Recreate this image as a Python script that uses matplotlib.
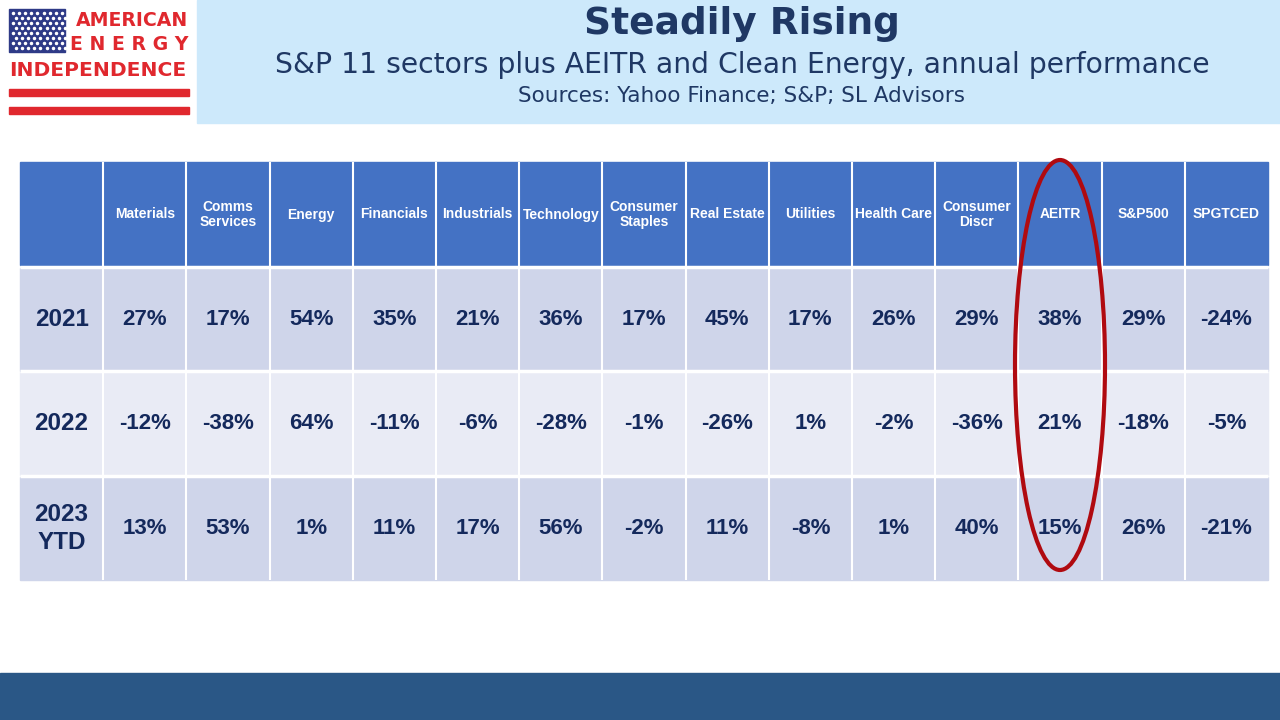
import numpy as np
import matplotlib.pyplot as plt
from matplotlib.patches import Rectangle, Ellipse

# ── Data ──────────────────────────────────────────────────────────
columns = ['Materials', 'Comms\nServices', 'Energy', 'Financials', 'Industrials',
           'Technology', 'Consumer\nStaples', 'Real Estate', 'Utilities',
           'Health Care', 'Consumer\nDiscr', 'AEITR', 'S&P500', 'SPGTCED']
row_labels = ['2021', '2022', '2023\nYTD']
perf_2021 = [27, 17, 54, 35, 21, 36, 17, 45, 17, 26, 29, 38, 29, -24]
perf_2022 = [-12, -38, 64, -11, -6, -28, -1, -26, 1, -2, -36, 21, -18, -5]
perf_2023 = [13, 53, 1, 11, 17, 56, -2, 11, -8, 1, 40, 15, 26, -21]
rows = [perf_2021, perf_2022, perf_2023]
highlight = 'AEITR'

# ── Colours ───────────────────────────────────────────────────────
c_head = '#4472C4'
c_odd = '#CFD5EA'
c_even = '#E9EBF5'
c_text = '#14295C'
c_title = '#1F3864'
c_band = '#CDE9FB'
c_foot = '#2A5786'
c_red = '#E0282E'
c_ring = '#B00A10'
c_flag = '#2E3A87'

fig = plt.figure(figsize=(12.8, 7.2), dpi=100)
ax = fig.add_axes([0, 0, 1, 1])
ax.set_xlim(0, 1280)
ax.set_ylim(720, 0)
ax.axis('off')

# ── Header band and footer ───────────────────────────────────────
ax.add_patch(Rectangle((197, 0), 1083, 123, color=c_band, zorder=0))
ax.add_patch(Rectangle((0, 673), 1280, 47, color=c_foot, zorder=0))

ax.text(742, 24, 'Steadily Rising', ha='center', va='center', fontsize=27,
        fontweight='bold', color=c_title, family='DejaVu Sans')
ax.text(742, 65, 'S&P 11 sectors plus AEITR and Clean Energy, annual performance',
        ha='center', va='center', fontsize=20.3, color=c_title, family='DejaVu Sans')
ax.text(742, 96, 'Sources: Yahoo Finance; S&P; SL Advisors', ha='center', va='center',
        fontsize=15.5, color=c_title, family='DejaVu Sans')

# ── Logo ─────────────────────────────────────────────────────────
ax.add_patch(Rectangle((9, 9), 56, 43, color=c_flag, zorder=1))
for r in range(8):
    for c in range(9):
        ax.plot(13 + c * 6.1 + (3 if r % 2 else 0), 13 + r * 5, 'o', color='white',
                markersize=1.5, zorder=2)
ax.add_patch(Rectangle((9, 89), 180, 7, color=c_red, zorder=1))
ax.add_patch(Rectangle((9, 107), 180, 7, color=c_red, zorder=1))
ax.text(188, 20, 'AMERICAN', ha='right', va='center', fontsize=13.6,
        fontweight='bold', color=c_red, family='DejaVu Sans')
ax.text(188, 45, 'E N E R G Y', ha='right', va='center', fontsize=13.6,
        fontweight='bold', color=c_red, family='DejaVu Sans')
ax.text(98, 70, 'INDEPENDENCE', ha='center', va='center', fontsize=14.6,
        fontweight='bold', color=c_red, family='DejaVu Sans')

# ── Table ────────────────────────────────────────────────────────
x0, cw = 20, 83.2
ncol = len(columns) + 1
x1 = x0 + cw * ncol
head_top, head_h = 162, 103
row_tops = [268, 372, 477]
row_h = 103

# header row
ax.add_patch(Rectangle((x0, head_top), x1 - x0, head_h, color=c_head, zorder=1))
for j, name in enumerate(columns):
    x = x0 + cw * (j + 1)
    ax.text(x + cw / 2, head_top + head_h / 2 + 1, name, ha='center', va='center',
            fontsize=10, fontweight='bold', color='white', linespacing=1.05,
            family=['Liberation Sans Narrow', 'Liberation Sans', 'DejaVu Sans'])

# body rows
for i, (lab, vals) in enumerate(zip(row_labels, rows)):
    y = row_tops[i]
    col = c_odd if i % 2 == 0 else c_even
    ax.add_patch(Rectangle((x0, y), x1 - x0, row_h, color=col, zorder=1))
    ax.text(x0 + cw / 2, y + row_h / 2, lab, ha='center', va='center', fontsize=17.5,
            fontweight='bold', color=c_text, linespacing=1.25,
            family=['Liberation Sans', 'DejaVu Sans'])
    for j, v in enumerate(vals):
        x = x0 + cw * (j + 1)
        ax.text(x + cw / 2, y + row_h / 2, f'{v}%', ha='center', va='center',
                fontsize=16, fontweight='bold', color=c_text,
                family=['Liberation Sans', 'DejaVu Sans'])

# white grid lines between cells
for j in range(1, ncol):
    ax.plot([x0 + cw * j] * 2, [head_top, row_tops[-1] + row_h], color='white',
            linewidth=1.5, zorder=2, solid_capstyle='butt')
for y in row_tops:
    ax.plot([x0, x1], [y - 1, y - 1], color='white', linewidth=2.5, zorder=2,
            solid_capstyle='butt')

# ring around highlighted column
k = columns.index(highlight)
xc = x0 + cw * (k + 1) + cw / 2
ax.add_patch(Ellipse((xc, 365), 90, 410, fill=False, edgecolor=c_ring,
                     linewidth=3, zorder=5))

plt.savefig('out.png', dpi=100)
plt.close()
